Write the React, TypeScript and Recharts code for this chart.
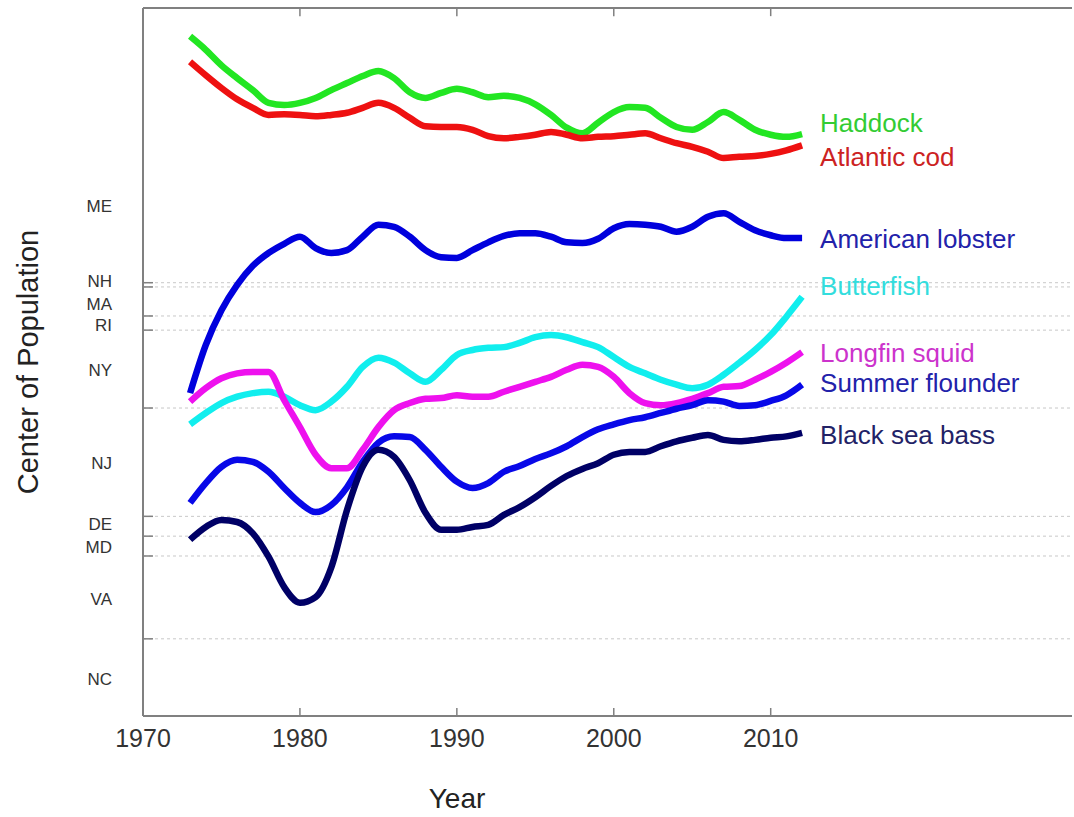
import React from 'react';
import { LineChart, Line, XAxis, YAxis, ReferenceLine } from 'recharts';

const YEARS = [
  1973, 1974, 1975, 1976, 1977, 1978, 1979, 1980, 1981, 1982,
  1983, 1984, 1985, 1986, 1987, 1988, 1989, 1990, 1991, 1992,
  1993, 1994, 1995, 1996, 1997, 1998, 1999, 2000, 2001, 2002,
  2003, 2004, 2005, 2006, 2007, 2008, 2009, 2010, 2011, 2012,
];

// center of population index (0 = bottom of frame, 100 = top)
const HADDOCK = [
  96.0, 94.1, 91.9, 90.1, 88.4, 86.6, 86.3, 86.6, 87.3, 88.4,
  89.4, 90.4, 91.1, 90.1, 88.1, 87.3, 88.0, 88.6, 88.1, 87.4,
  87.6, 87.3, 86.4, 84.9, 83.1, 82.3, 83.8, 85.3, 86.0, 85.9,
  84.5, 83.2, 82.8, 83.9, 85.3, 84.2, 82.8, 82.1, 81.8, 82.2,
];
const ATLANTIC_COD = [
  92.4, 90.5, 88.7, 87.1, 85.9, 84.9, 85.0, 84.9, 84.7, 84.9,
  85.2, 85.9, 86.6, 85.9, 84.5, 83.3, 83.2, 83.2, 82.8, 81.9,
  81.6, 81.8, 82.1, 82.5, 82.1, 81.6, 81.8, 81.9, 82.1, 82.3,
  81.6, 80.9, 80.4, 79.7, 78.8, 79.0, 79.1, 79.4, 79.9, 80.6,
];
const AMERICAN_LOBSTER = [
  45.6, 52.4, 57.3, 60.9, 63.6, 65.4, 66.7, 67.7, 66.1, 65.4,
  65.8, 67.7, 69.4, 69.1, 67.7, 65.8, 64.8, 64.7, 65.8, 66.9,
  67.8, 68.2, 68.2, 67.7, 66.9, 66.8, 67.4, 68.9, 69.5, 69.4,
  69.1, 68.4, 69.1, 70.5, 71.0, 69.8, 68.6, 67.9, 67.5, 67.5,
];
const BUTTERFISH = [
  41.2, 42.8, 44.2, 45.1, 45.6, 45.8, 45.1, 43.9, 43.2, 44.4,
  46.5, 49.3, 50.6, 49.9, 48.4, 47.2, 48.9, 51.0, 51.7, 52.0,
  52.1, 52.7, 53.5, 53.8, 53.5, 52.8, 52.1, 50.7, 49.3, 48.4,
  47.5, 46.8, 46.3, 46.8, 48.2, 49.9, 51.7, 53.8, 56.4, 59.2,
];
const LONGFIN_SQUID = [
  44.4, 46.3, 47.7, 48.4, 48.6, 48.6, 44.6, 40.8, 36.9, 35.0,
  35.0, 37.6, 40.8, 43.2, 44.2, 44.8, 44.9, 45.3, 45.1, 45.1,
  45.8, 46.5, 47.2, 47.9, 48.9, 49.6, 49.3, 47.9, 45.6, 44.2,
  43.9, 44.2, 44.8, 45.6, 46.5, 46.6, 47.5, 48.6, 49.9, 51.4,
];
const SUMMER_FLOUNDER = [
  30.1, 32.9, 35.2, 36.2, 35.9, 34.5, 32.2, 30.1, 28.8, 29.8,
  32.3, 35.9, 38.6, 39.5, 39.4, 37.6, 35.2, 33.1, 32.2, 32.9,
  34.5, 35.3, 36.3, 37.1, 38.1, 39.4, 40.5, 41.2, 41.8, 42.2,
  42.8, 43.4, 43.9, 44.6, 44.4, 43.8, 43.9, 44.5, 45.3, 46.8,
];
const BLACK_SEA_BASS = [
  24.9, 26.7, 27.7, 27.4, 25.8, 22.5, 18.2, 16.0, 16.8, 21.0,
  29.1, 35.2, 37.6, 36.6, 33.3, 28.7, 26.3, 26.3, 26.7, 27.0,
  28.4, 29.5, 30.9, 32.5, 33.9, 34.9, 35.7, 36.9, 37.3, 37.3,
  38.1, 38.8, 39.3, 39.7, 39.0, 38.8, 39.0, 39.3, 39.5, 40.0,
];

// state boundaries and state name positions on the same index
const BOUNDARIES = [61.2, 60.6, 56.5, 54.5, 43.5, 28.2, 25.4, 22.6, 10.9];
const STATES = ['ME', 'NH', 'MA', 'RI', 'NY', 'NJ', 'DE', 'MD', 'VA', 'NC'];
const STATE_POS = [72.0, 61.5, 58.2, 55.2, 48.9, 35.7, 27.1, 23.9, 16.5, 5.2];

const X_TICKS = [1970, 1980, 1990, 2000, 2010];
const X_MAX = 2029.2;
const Y_MAX = 100;

const SERIES = [
  { key: 'haddock', name: 'Haddock', values: HADDOCK, color: '#22e622', text: '#33cc33', dy: -11 },
  { key: 'cod', name: 'Atlantic cod', values: ATLANTIC_COD, color: '#ee1111', text: '#cc2222', dy: 12 },
  { key: 'lobster', name: 'American lobster', values: AMERICAN_LOBSTER, color: '#0000dd', text: '#2222aa', dy: 1 },
  { key: 'butterfish', name: 'Butterfish', values: BUTTERFISH, color: '#11eeee', text: '#33dddd', dy: -11 },
  { key: 'squid', name: 'Longfin squid', values: LONGFIN_SQUID, color: '#ee11ee', text: '#cc33cc', dy: 1 },
  { key: 'flounder', name: 'Summer flounder', values: SUMMER_FLOUNDER, color: '#0808e8', text: '#2222aa', dy: -2 },
  { key: 'bass', name: 'Black sea bass', values: BLACK_SEA_BASS, color: '#000066', text: '#222266', dy: 2 },
];

const data = YEARS.map((year, i) => {
  const row: Record<string, number> = { year };
  SERIES.forEach((s) => {
    row[s.key] = s.values[i];
  });
  return row;
});

const FONT = '"Liberation Sans", Arial, sans-serif';
const AXIS = '#808080';

const BottomTick = (props: any) => {
  const { x, y, payload } = props;
  return (
    <g>
      <line x1={x} y1={y} x2={x} y2={y - 8} stroke={AXIS} strokeWidth={1.5} />
      <text x={x} y={y + 31} textAnchor="middle" fontSize={25} fill="#333" fontFamily={FONT}>
        {payload.value}
      </text>
    </g>
  );
};

const StateTick = (props: any) => {
  const { x, y, payload } = props;
  const bi = BOUNDARIES.indexOf(payload.value);
  const si = STATE_POS.indexOf(payload.value);
  return (
    <g>
      {bi >= 0 && <line x1={x} y1={y} x2={x + 10} y2={y} stroke={AXIS} strokeWidth={1.5} />}
      {si >= 0 && (
        <text x={112} y={y + 6} textAnchor="end" fontSize={17} fill="#333" fontFamily={FONT}>
          {STATES[si]}
        </text>
      )}
    </g>
  );
};

const seriesLabel = (s: (typeof SERIES)[number]) => (props: any) => {
  const { x, y, index } = props;
  if (index !== YEARS.length - 1) return null;
  return (
    <text x={x + 18} y={y + s.dy + 9} fontSize={26} fill={s.text} fontFamily={FONT}>
      {s.name}
    </text>
  );
};

export default function App() {
  return (
    <div style={{ position: 'absolute', left: 0, top: 0, background: '#fff' }}>
      <LineChart
        width={1074}
        height={817}
        data={data}
        margin={{ top: 8, right: 2, left: 0, bottom: 0 }}
      >
        {BOUNDARIES.map((b) => (
          <ReferenceLine key={b} y={b} stroke="#c8c8c8" strokeDasharray="3 3" strokeWidth={1} />
        ))}
        <ReferenceLine y={Y_MAX} stroke={AXIS} strokeWidth={2} />
        {X_TICKS.slice(1).map((t) => (
          <ReferenceLine
            key={`top-${t}`}
            segment={[
              { x: t, y: Y_MAX },
              { x: t, y: Y_MAX - 1.15 },
            ]}
            stroke={AXIS}
            strokeWidth={1.5}
          />
        ))}
        <XAxis
          dataKey="year"
          type="number"
          domain={[1970, X_MAX]}
          ticks={X_TICKS}
          interval={0}
          height={101}
          tickSize={0}
          tickMargin={0}
          tickLine={false}
          tick={<BottomTick />}
          axisLine={{ stroke: AXIS, strokeWidth: 2 }}
          label={() => (
            <text x={457} y={808} textAnchor="middle" fontSize={28} fill="#222" fontFamily={FONT}>
              Year
            </text>
          )}
        />
        <YAxis
          type="number"
          domain={[0, Y_MAX]}
          ticks={[...BOUNDARIES, ...STATE_POS]}
          interval={0}
          width={143}
          tickSize={0}
          tickMargin={0}
          tickLine={false}
          tick={<StateTick />}
          axisLine={{ stroke: AXIS, strokeWidth: 2 }}
          label={() => (
            <text
              x={38}
              y={362}
              transform="rotate(-90 38 362)"
              textAnchor="middle"
              fontSize={29}
              fill="#222"
              fontFamily={FONT}
            >
              Center of Population
            </text>
          )}
        />
        {SERIES.map((s) => (
          <Line
            key={s.key}
            dataKey={s.key}
            type="monotone"
            stroke={s.color}
            strokeWidth={6.5}
            dot={false}
            activeDot={false}
            isAnimationActive={false}
            label={seriesLabel(s)}
          />
        ))}
      </LineChart>
    </div>
  );
}
